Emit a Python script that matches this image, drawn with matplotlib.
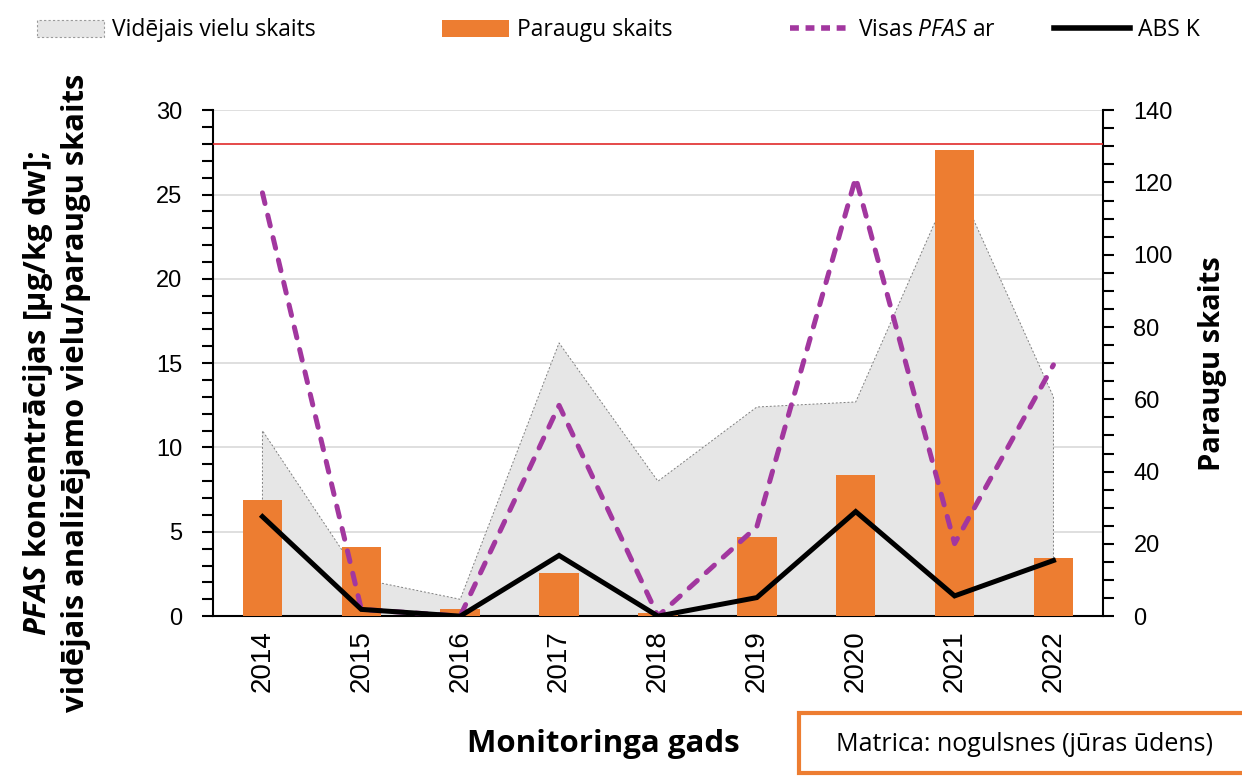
import matplotlib
matplotlib.use("Agg")
import matplotlib.pyplot as plt
from matplotlib.patches import Patch, Rectangle
from matplotlib.lines import Line2D
from matplotlib.ticker import MultipleLocator

# data
years = ["2014", "2015", "2016", "2017", "2018", "2019", "2020", "2021", "2022"]
avg_substances = [11.0, 2.2, 1.0, 16.2, 8.0, 12.4, 12.7, 26.0, 13.0]
sample_count = [32, 19, 2, 12, 1, 22, 39, 129, 16]
pfas_total = [25.1, 0.4, 0.0, 12.5, 0.0, 5.3, 26.0, 4.3, 14.9]
abs_k = [5.9, 0.4, 0.0, 3.6, 0.0, 1.1, 6.2, 1.2, 3.3]
limit_value = 28

plt.rcParams["mathtext.fontset"] = "custom"
plt.rcParams["mathtext.rm"] = "Open Sans"
plt.rcParams["mathtext.it"] = "Open Sans:italic"
plt.rcParams["mathtext.bf"] = "Open Sans:bold"
plt.rcParams["mathtext.bfit"] = "Open Sans:italic:bold"

ORANGE = "#ED7D31"
PURPLE = "#A2379F"
GRAY = "#E6E6E6"
label_font = ["Open Sans", "DejaVu Sans"]
tick_font = "Liberation Sans"

x = list(range(len(years)))

fig = plt.figure(figsize=(12.42, 7.76), dpi=100)
ax = fig.add_axes([0.1715, 0.206, 0.7165, 0.652])
ax2 = ax.twinx()
ax3 = ax.twinx()

# gray area (left scale)
ax.set_axisbelow(True)
ax.yaxis.grid(True, color="#D9D9D9", linewidth=1.2)
ax.fill_between(x, avg_substances, 0, facecolor=GRAY, edgecolor="#7F7F7F",
                linewidth=0.7, linestyle=(0, (2, 2)), zorder=2)

# bars (right scale)
ax2.bar(x, sample_count, width=0.4, color=ORANGE, zorder=2)

# lines (left scale, on top)
ax3.axhline(limit_value, color="#E02B2B", linewidth=1.2)
ax3.plot(x, pfas_total, color=PURPLE, linewidth=3.6,
         linestyle=(0, (2.2, 2.4)), dash_capstyle="round")
ax3.plot(x, abs_k, color="black", linewidth=3.6, solid_joinstyle="miter")

for a in (ax, ax2, ax3):
    a.set_xlim(-0.5, len(years) - 0.5)
ax.set_ylim(0, 30)
ax3.set_ylim(0, 30)
ax2.set_ylim(0, 140)

ax3.set_yticks([])
for s in ax3.spines.values():
    s.set_visible(False)
for a in (ax, ax2):
    a.spines["top"].set_visible(False)
ax.spines["right"].set_visible(False)
ax2.spines["left"].set_visible(False)
ax2.spines["bottom"].set_visible(False)
for s in ("left", "bottom"):
    ax.spines[s].set_linewidth(1.5)
ax2.spines["right"].set_linewidth(1.5)

ax.yaxis.set_major_locator(MultipleLocator(5))
ax.yaxis.set_minor_locator(MultipleLocator(1))
ax2.yaxis.set_major_locator(MultipleLocator(20))
ax2.yaxis.set_minor_locator(MultipleLocator(5))
ax.tick_params(axis="y", which="both", direction="out", length=8, width=1.5, pad=14)
ax2.tick_params(axis="y", which="both", direction="out", length=8, width=1.5, pad=14)
ax.tick_params(axis="x", length=0, pad=10)

ax.set_xticks(x)
ax.set_xticklabels(years, rotation=90, fontsize=20, family=tick_font)
for lab in ax.get_yticklabels() + ax2.get_yticklabels():
    lab.set_fontsize(17)
    lab.set_family(tick_font)

ax.set_ylabel("$\\mathbfit{PFAS}$ koncentrācijas [µg/kg dw];\nvidējais analizējamo vielu/paraugu skaits",
              fontsize=22.3, fontweight="bold", family=label_font, linespacing=1.25)
ax.yaxis.set_label_coords(-0.137, 0.441)
ax2.set_ylabel("Paraugu skaits", fontsize=21, fontweight="bold",
               family=label_font, labelpad=18)
fig.text(0.4855, 0.031, "Monitoringa gads", ha="center", va="baseline",
         fontsize=22.5, fontweight="bold", family=label_font)

# legend entries spread along the top
legend_items = [
    (Patch(facecolor=GRAY, edgecolor="#9A9A9A", linestyle=(0, (2, 2)), linewidth=0.8),
     "Vidējais vielu skaits", 0.030, 2.9),
    (Patch(facecolor=ORANGE), "Paraugu skaits", 0.356, 2.9),
    (Line2D([], [], color=PURPLE, linewidth=4, linestyle=(0, (1.6, 1.2))),
     "Visas $\\mathit{PFAS}$ ar", 0.636, 2.6),
    (Line2D([], [], color="black", linewidth=4), "ABS K", 0.849, 3.3),
]
for handle, text, xpos, hlen in legend_items:
    fig.legend([handle], [text], loc="center left", bbox_to_anchor=(xpos, 0.961),
               frameon=False, borderpad=0, borderaxespad=0, handlelength=hlen,
               handleheight=0.8, handletextpad=0.35,
               prop={"family": label_font, "size": 16.5})

# matrix box in the lower right corner
fig.patches.append(Rectangle((0.643, 0.004), 0.40, 0.077, transform=fig.transFigure,
                             facecolor="white", edgecolor=ORANGE, linewidth=3))
fig.text(0.825, 0.04, "Matrica: nogulsnes (jūras ūdens)", ha="center", va="center",
         fontsize=18, family=label_font)

fig.savefig("out.png", dpi=100)
